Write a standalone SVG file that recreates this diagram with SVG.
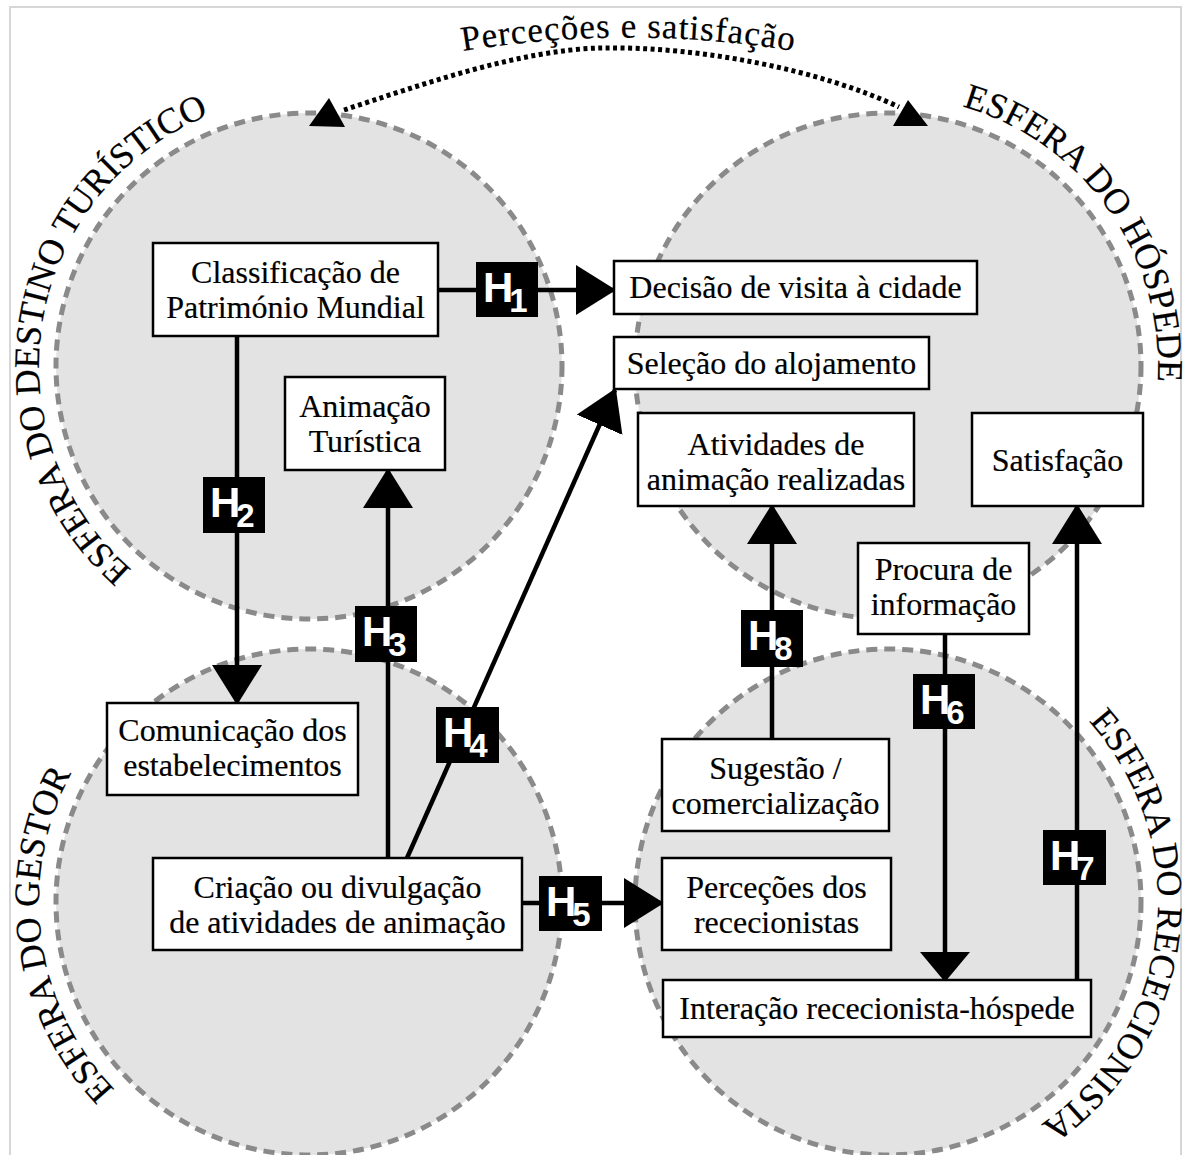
<svg xmlns="http://www.w3.org/2000/svg" width="1185" height="1155" viewBox="0 0 1185 1155">
<defs>
<style>
.frame{fill:#ffffff;stroke:#d6d6d6;stroke-width:2}
.sphere{fill:#e3e3e3;stroke:#8a8a8a;stroke-width:5;stroke-dasharray:11 7}
.box{fill:#ffffff;stroke:#000000;stroke-width:2.5}
.t{font-family:"Liberation Serif","Times New Roman",serif;font-size:32px;fill:#000;stroke:#000;stroke-width:0.2;text-anchor:middle}
.lab{font-family:"Liberation Serif","Times New Roman",serif;font-size:36px;fill:#000;stroke:#000;stroke-width:0.2}
.ln{stroke:#000;stroke-width:4.5;fill:none}
.dot{stroke:#000;stroke-width:5;fill:none;stroke-dasharray:4 3.5}
.hb{fill:#000}
.ht{font-family:"Liberation Sans",Arial,sans-serif;font-weight:bold;fill:#fff}
</style>
<marker id="ah" markerUnits="userSpaceOnUse" markerWidth="40" markerHeight="50" refX="38" refY="25" orient="auto">
<path d="M0,0 L40,25 L0,50 Z" fill="#000"/>
</marker>
<marker id="ahs" markerUnits="userSpaceOnUse" markerWidth="30" markerHeight="50" refX="28" refY="25" orient="auto">
<path d="M0,0 L30,25 L0,50 Z" fill="#000"/>
</marker>
<path id="pTL" d="M131.9,569.8 A270,270 0 0 1 239.1,105.2"/>
<path id="pTR" d="M962.4,106.5 A270,270 0 0 1 1148.8,435.9"/>
<path id="pBL" d="M114.8,1089.6 A270,270 0 0 1 87.8,747.1"/>
<path id="pBR" d="M1088.6,721.3 A270,270 0 0 1 1002.1,1146.7"/>
<path id="pTop" d="M452,53 A1015,1015 0 0 1 805,53"/>
</defs>

<rect class="frame" x="10" y="7" width="1171" height="1170"/>

<g id="spheres">
<circle id="sphere-destino" class="sphere" cx="309" cy="366" r="253"/>
<circle id="sphere-hospede" class="sphere" cx="888" cy="366" r="253"/>
<circle id="sphere-gestor" class="sphere" cx="309" cy="902" r="253"/>
<circle id="sphere-rececionista" class="sphere" cx="888" cy="902" r="253"/>
<text class="lab"><textPath href="#pTL">ESFERA DO DESTINO TURÍSTICO</textPath></text>
<text class="lab"><textPath href="#pTR">ESFERA DO HÓSPEDE</textPath></text>
<text class="lab"><textPath href="#pBL">ESFERA DO GESTOR</textPath></text>
<text class="lab"><textPath href="#pBR">ESFERA DO RECECIONISTA</textPath></text>
</g>

<g id="connectors">
<path class="dot" d="M344,110 C420,85 520,50 600,48 C700,46 820,70 899,107"/>
<polygon points="329,98 309,126 345,127" fill="#000"/>
<polygon points="908,100 893,126 928,126" fill="#000"/>
<text class="lab" style="font-size:35px;letter-spacing:1px;text-anchor:middle"><textPath href="#pTop" startOffset="50%">Perceções e satisfação</textPath></text>

<line class="ln" x1="438" y1="290" x2="614" y2="290" marker-end="url(#ah)"/>
<line class="ln" x1="237" y1="336" x2="237" y2="703" marker-end="url(#ah)"/>
<line class="ln" x1="388" y1="858" x2="388" y2="470" marker-end="url(#ah)"/>
<line class="ln" x1="407" y1="858" x2="615" y2="390" marker-end="url(#ah)"/>
<line class="ln" x1="522" y1="903" x2="662" y2="903" marker-end="url(#ah)"/>
<line class="ln" x1="945" y1="634" x2="945" y2="980" marker-end="url(#ahs)"/>
<line class="ln" x1="1077" y1="980" x2="1077" y2="506" marker-end="url(#ah)"/>
<line class="ln" x1="772" y1="739" x2="772" y2="506" marker-end="url(#ah)"/>

<g id="h1"><rect class="hb" x="476" y="262" width="62" height="55"/><text class="ht" x="483" y="302"><tspan font-size="42">H</tspan><tspan font-size="33" dx="-4" dy="10">1</tspan></text></g>
<g id="h2"><rect class="hb" x="203" y="477" width="62" height="56"/><text class="ht" x="210" y="517"><tspan font-size="42">H</tspan><tspan font-size="33" dx="-4" dy="10">2</tspan></text></g>
<g id="h3"><rect class="hb" x="355" y="606" width="62" height="56"/><text class="ht" x="362" y="646"><tspan font-size="42">H</tspan><tspan font-size="33" dx="-4" dy="10">3</tspan></text></g>
<g id="h4"><rect class="hb" x="436" y="707" width="63" height="56"/><text class="ht" x="443" y="747"><tspan font-size="42">H</tspan><tspan font-size="33" dx="-4" dy="10">4</tspan></text></g>
<g id="h5"><rect class="hb" x="539" y="876" width="63" height="55"/><text class="ht" x="546" y="916"><tspan font-size="42">H</tspan><tspan font-size="33" dx="-4" dy="10">5</tspan></text></g>
<g id="h6"><rect class="hb" x="913" y="674" width="62" height="55"/><text class="ht" x="920" y="714"><tspan font-size="42">H</tspan><tspan font-size="33" dx="-4" dy="10">6</tspan></text></g>
<g id="h7"><rect class="hb" x="1043" y="830" width="63" height="55"/><text class="ht" x="1050" y="870"><tspan font-size="42">H</tspan><tspan font-size="33" dx="-4" dy="10">7</tspan></text></g>
<g id="h8"><rect class="hb" x="741" y="610" width="62" height="57"/><text class="ht" x="748" y="650"><tspan font-size="42">H</tspan><tspan font-size="33" dx="-4" dy="10">8</tspan></text></g>
</g>

<g id="n-classificacao"><rect class="box" x="153" y="243" width="285" height="93"/><text class="t" x="295.5" y="283">Classificação de</text><text class="t" x="295.5" y="318">Património Mundial</text></g>
<g id="n-animacao"><rect class="box" x="285" y="377" width="160" height="93"/><text class="t" x="365" y="417">Animação</text><text class="t" x="365" y="452">Turística</text></g>
<g id="n-decisao"><rect class="box" x="614" y="261" width="363" height="53"/><text class="t" x="795.5" y="298">Decisão de visita à cidade</text></g>
<g id="n-selecao"><rect class="box" x="614" y="337" width="315" height="52"/><text class="t" x="771.5" y="374">Seleção do alojamento</text></g>
<g id="n-atividades"><rect class="box" x="638" y="413" width="276" height="93"/><text class="t" x="776" y="455">Atividades de</text><text class="t" x="776" y="490">animação realizadas</text></g>
<g id="n-satisfacao"><rect class="box" x="972" y="413" width="171" height="93"/><text class="t" x="1057.5" y="471">Satisfação</text></g>
<g id="n-procura"><rect class="box" x="858" y="543" width="171" height="91"/><text class="t" x="943.5" y="580">Procura de</text><text class="t" x="943.5" y="615">informação</text></g>
<g id="n-comunicacao"><rect class="box" x="107" y="703" width="251" height="92"/><text class="t" x="232.5" y="741">Comunicação dos</text><text class="t" x="232.5" y="776">estabelecimentos</text></g>
<g id="n-criacao"><rect class="box" x="153" y="858" width="369" height="92"/><text class="t" x="337.5" y="898">Criação ou divulgação</text><text class="t" x="337.5" y="933">de atividades de animação</text></g>
<g id="n-sugestao"><rect class="box" x="662" y="739" width="227" height="92"/><text class="t" x="775.5" y="779">Sugestão /</text><text class="t" x="775.5" y="814">comercialização</text></g>
<g id="n-percecoes"><rect class="box" x="662" y="858" width="229" height="92"/><text class="t" x="776.5" y="898">Perceções dos</text><text class="t" x="776.5" y="933">rececionistas</text></g>
<g id="n-interacao"><rect class="box" x="663" y="980" width="428" height="57"/><text class="t" x="877" y="1019">Interação rececionista-hóspede</text></g>
</svg>
